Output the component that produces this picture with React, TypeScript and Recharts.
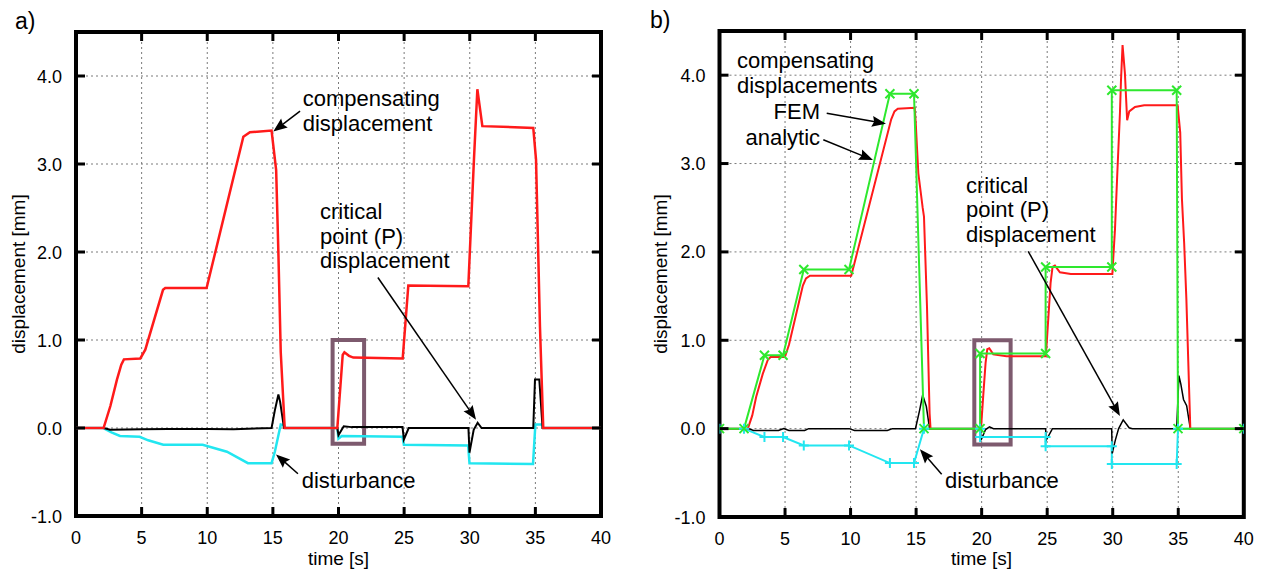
import React from "react";
import {
  CartesianGrid,
  Line,
  LineChart,
  ReferenceArea,
  ReferenceDot,
  ReferenceLine,
  XAxis,
  YAxis,
} from "recharts";

type Pt = [number, number];

const TIME_TICKS = [0, 5, 10, 15, 20, 25, 30, 35, 40];
const DISP_TICKS = [-1, 0, 1, 2, 3, 4];

// a) measured signals [time s, displacement mm]
const A_COMP: Pt[] = [
  [0, 0], [2.1, 0], [2.62, 0.25], [3.12, 0.55], [3.45, 0.72], [3.65, 0.78], [4.9, 0.79],
  [5.28, 0.89], [6.63, 1.57], [6.8, 1.59], [9.95, 1.59], [12.75, 3.31], [13.25, 3.36],
  [14.9, 3.38], [15.25, 2.93], [15.42, 1.99], [15.6, 0.86], [15.9, 0], [19.91, 0],
  [20.32, 0.83], [20.45, 0.86], [20.8, 0.82], [21.13, 0.8], [24.89, 0.79], [25.32, 1.62],
  [29.89, 1.61], [30.32, 3.05], [30.58, 3.85], [30.96, 3.43], [34.84, 3.41], [35.05, 3.05],
  [35.35, 1.15], [35.6, 0], [40, 0],
];
const A_CRIT: Pt[] = [
  [0, 0], [2.1, 0], [2.6, -0.02], [5, -0.015], [7, -0.01], [10, -0.01], [12, -0.015],
  [14.9, 0], [15.15, 0.2], [15.42, 0.38], [15.55, 0.3], [15.85, 0], [19.91, 0], [20.0, -0.08],
  [20.4, 0.02], [21, 0.01], [24.88, 0.01], [24.98, -0.13], [25.35, 0], [29.9, 0],
  [29.98, -0.28], [30.3, -0.02], [30.6, 0.06], [30.9, 0], [34.84, 0], [34.97, 0.55],
  [35.3, 0.55], [35.55, 0], [40, 0],
];
const A_DIST: Pt[] = [
  [0, 0], [2.05, 0], [2.7, -0.05], [3.35, -0.09], [4.85, -0.1], [5.5, -0.14], [6.65, -0.19],
  [9.65, -0.19], [11.5, -0.27], [13.1, -0.4], [14.9, -0.4], [15.15, -0.27], [15.6, 0.04],
  [15.85, 0.03], [15.95, 0], [19.91, 0], [20.0, -0.12], [20.25, -0.09], [24.88, -0.1],
  [24.98, -0.19], [29.88, -0.2], [29.98, -0.4], [34.82, -0.41], [35.0, 0.04], [35.5, 0.04],
  [35.6, 0], [40, 0],
];

// b) simulated signals
const B_FEM: Pt[] = [
  [0, 0], [2.16, 0], [2.5, 0.15], [2.8, 0.36], [3.3, 0.62], [3.69, 0.78], [3.9, 0.81],
  [4.99, 0.81], [5.3, 0.95], [6.36, 1.62], [6.6, 1.7], [6.9, 1.73], [10.05, 1.73],
  [13.1, 3.5], [13.35, 3.59], [13.6, 3.62], [14.89, 3.63], [14.97, 3.46], [15.17, 2.89],
  [15.5, 2.5], [15.6, 2.4], [15.83, 1.38], [16.03, 0.17], [16.1, 0], [19.95, 0],
  [20.12, 0.37], [20.3, 0.745], [20.43, 0.9], [20.58, 0.91], [20.89, 0.84], [21.9, 0.82],
  [24.9, 0.82], [25.08, 1.235], [25.26, 1.65], [25.41, 1.83], [25.59, 1.845], [25.97, 1.77],
  [26.8, 1.75], [29.97, 1.75], [30.17, 2.25], [30.35, 2.89], [30.55, 3.57], [30.63, 3.94],
  [30.75, 4.34], [30.93, 4.02], [31.1, 3.49], [31.26, 3.59], [31.7, 3.64], [32.4, 3.66],
  [34.95, 3.66], [35.15, 3.35], [35.28, 2.6], [35.45, 2.1], [35.62, 1.46], [35.92, 0], [40, 0],
];
const B_ANALYTIC: Pt[] = [
  [0, 0], [1.87, 0], [3.43, 0.83], [4.85, 0.83], [6.43, 1.8], [9.88, 1.8], [13.0, 3.79],
  [14.84, 3.79], [15.6, 0], [19.88, 0], [19.88, 0.85], [24.88, 0.85], [24.88, 1.83],
  [29.93, 1.83], [29.93, 3.83], [34.88, 3.83], [34.98, 0], [40, 0],
];
const B_CRIT: Pt[] = [
  [0, 0], [2.2, 0], [2.6, -0.02], [4.5, -0.02], [4.9, 0], [5.3, -0.02], [6.5, -0.02],
  [6.8, 0], [9.9, 0], [10.3, -0.02], [12.8, -0.02], [13.2, 0], [14.95, 0], [15.27, 0.21],
  [15.5, 0.38], [15.78, 0.25], [16.03, 0], [19.9, 0], [19.95, -0.13], [20.3, -0.01],
  [20.6, 0.02], [20.9, 0], [24.88, 0], [24.93, -0.13], [25.4, 0], [29.92, 0], [29.96, -0.28],
  [30.2, -0.13], [30.45, 0], [30.8, 0.1], [31.25, 0.01], [31.5, 0], [34.88, 0], [35.05, 0.6],
  [35.2, 0.5], [35.4, 0.33], [35.64, 0.26], [35.92, 0], [40, 0],
];
const B_DIST: Pt[] = [
  [0, 0], [1.87, 0], [3.43, -0.095], [4.85, -0.095], [6.43, -0.19], [9.88, -0.19],
  [13.0, -0.39], [14.84, -0.39], [15.6, 0], [19.88, 0], [19.88, -0.095], [24.88, -0.095],
  [24.88, -0.2], [29.93, -0.2], [29.93, -0.4], [34.88, -0.4], [34.98, 0], [40, 0],
];

const RED = "#ff1a1a";
const CYAN = "#22e6f0";
const GREEN = "#2ee82e";
const BOX = "#7d5a6e";
const FONT = '"Liberation Sans", Arial, Helvetica, sans-serif';

const CHART_W = 633;
const CHART_H = 572;

type Series = { pts: Pt[]; color: string; width: number; marker?: "plus" | "cross" };
type Note = { t: number; v: number; lines: string[]; anchor?: "start" | "end" };
type Arrow = { from: Pt; to: Pt };
type PanelCfg = {
  left: number;
  top: number;
  bottom: number;
  plotLeft: number;
  plotRight: number;
  series: Series[];
  box: [number, number, number, number];
  notes: Note[];
  arrows: Arrow[];
};

const rows = (pts: Pt[]) => pts.map(([t, v]) => ({ t, v }));

const PANEL_A: PanelCfg = {
  left: 0,
  top: 32,
  bottom: 516,
  plotLeft: 76,
  plotRight: 601,
  series: [
    { pts: A_DIST, color: CYAN, width: 2.5 },
    { pts: A_CRIT, color: "#000", width: 2 },
    { pts: A_COMP, color: RED, width: 2.5 },
  ],
  box: [19.55, 21.95, -0.18, 1.0],
  notes: [
    { t: 17.27, v: 3.655, lines: ["compensating", "displacement"] },
    { t: 18.59, v: 2.375, lines: ["critical", "point (P)", "displacement"] },
    { t: 17.2, v: -0.68, lines: ["disturbance"] },
  ],
  arrows: [
    { from: [17.07, 3.6], to: [15.03, 3.37] },
    { from: [23.0, 1.71], to: [30.48, 0.094] },
    { from: [16.91, -0.52], to: [15.24, -0.3] },
  ],
};

const PANEL_B: PanelCfg = {
  left: 633,
  top: 31,
  bottom: 517,
  plotLeft: 86.5,
  plotRight: 610.8,
  series: [
    { pts: B_DIST, color: CYAN, width: 2, marker: "plus" },
    { pts: B_CRIT, color: "#000", width: 1.5 },
    { pts: B_FEM, color: RED, width: 2 },
    { pts: B_ANALYTIC, color: GREEN, width: 2, marker: "cross" },
  ],
  box: [19.44, 22.21, -0.18, 1.0],
  notes: [
    { t: 1.33, v: 4.08, lines: ["compensating", "displacements"] },
    { t: 7.67, v: 3.5, lines: ["FEM"], anchor: "end" },
    { t: 7.67, v: 3.21, lines: ["analytic"], anchor: "end" },
    { t: 18.8, v: 2.667, lines: ["critical", "point (P)", "displacement"] },
    { t: 17.2, v: -0.667, lines: ["disturbance"] },
  ],
  arrows: [
    { from: [8.18, 3.57], to: [12.7, 3.45] },
    { from: [7.92, 3.27], to: [11.71, 3.04] },
    { from: [23.55, 2.007], to: [30.55, 0.142] },
    { from: [16.95, -0.516], to: [15.29, -0.234] },
  ],
};

function TimeTick(props: any) {
  const { x, y, payload, top } = props;
  const v = payload.value;
  const inner = v !== 0 && v !== 40;
  return (
    <g>
      {inner && <line x1={x} y1={y} x2={x} y2={y - 9} stroke="#000" strokeWidth={3} />}
      {inner && <line x1={x} y1={top} x2={x} y2={top + 9} stroke="#000" strokeWidth={3} />}
      <text x={x} y={y + 27.5} textAnchor="middle" fontFamily={FONT} fontSize={18} fill="#000">
        {v}
      </text>
    </g>
  );
}

function DispTick(props: any) {
  const { x, y, payload, right } = props;
  const v = payload.value;
  return (
    <g>
      <line x1={x} y1={y} x2={x + 9} y2={y} stroke="#000" strokeWidth={3} />
      <line x1={right} y1={y} x2={right - 9} y2={y} stroke="#000" strokeWidth={3} />
      <text x={x - 14} y={y + 6.5} textAnchor="end" fontFamily={FONT} fontSize={18} fill="#000">
        {v.toFixed(1)}
      </text>
    </g>
  );
}

function ArrowShape(props: any) {
  const { x1, y1, x2, y2 } = props;
  const a = Math.atan2(y2 - y1, x2 - x1);
  const c = Math.cos(a);
  const s = Math.sin(a);
  const bx = x2 - 14 * c;
  const by = y2 - 14 * s;
  const head = `M${x2},${y2} L${bx - 5.5 * s},${by + 5.5 * c} L${bx + 2 * c},${by + 2 * s} L${bx + 5.5 * s},${by - 5.5 * c} Z`;
  return (
    <g>
      <line x1={x1} y1={y1} x2={bx + 3 * c} y2={by + 3 * s} stroke="#000" strokeWidth={1.5} />
      <path d={head} fill="#000" />
    </g>
  );
}

const noteShape = (n: Note) => (p: any) => (
  <text
    x={p.cx}
    y={p.cy}
    fontFamily={FONT}
    fontSize={22}
    fill="#000"
    textAnchor={n.anchor ?? "start"}
  >
    {n.lines.map((l, i) => (
      <tspan key={i} x={p.cx} dy={i === 0 ? 0 : 24.5}>
        {l}
      </tspan>
    ))}
  </text>
);

const markerDot = (kind: "plus" | "cross", color: string) => (p: any) => {
  const { cx, cy, index } = p;
  const d =
    kind === "plus"
      ? `M${cx - 5},${cy} L${cx + 5},${cy} M${cx},${cy - 5} L${cx},${cy + 5}`
      : `M${cx - 4.5},${cy - 4.5} L${cx + 4.5},${cy + 4.5} M${cx - 4.5},${cy + 4.5} L${cx + 4.5},${cy - 4.5}`;
  return <path key={`m-${index}`} d={d} stroke={color} strokeWidth={2} fill="none" />;
};

function Panel({ cfg }: { cfg: PanelCfg }) {
  const { left, top, bottom, plotLeft, plotRight } = cfg;
  return (
    <div style={{ position: "absolute", left, top: 0 }}>
      <LineChart
        width={CHART_W}
        height={CHART_H}
        margin={{ top, right: CHART_W - plotRight, bottom: 0, left: 0 }}
      >
        <CartesianGrid stroke="#7a7a7a" strokeDasharray="2 3" />
        <XAxis
          type="number"
          dataKey="t"
          domain={[0, 40]}
          ticks={TIME_TICKS}
          interval={0}
          allowDataOverflow
          height={CHART_H - bottom}
          axisLine={false}
          tickLine={false}
          tickSize={0}
          tickMargin={0}
          tick={(p: any) => <TimeTick {...p} top={top} />}
        />
        <YAxis
          type="number"
          domain={[-1, 4.5]}
          ticks={DISP_TICKS}
          interval={0}
          allowDataOverflow
          width={plotLeft}
          axisLine={false}
          tickLine={false}
          tickSize={0}
          tickMargin={0}
          tick={(p: any) => <DispTick {...p} right={plotRight} />}
        />
        {cfg.series.map((s, i) => (
          <Line
            key={i}
            data={rows(s.pts)}
            dataKey="v"
            type="linear"
            stroke={s.color}
            strokeWidth={s.width}
            dot={s.marker ? markerDot(s.marker, s.color) : false}
            activeDot={false}
            isAnimationActive={false}
          />
        ))}
        <ReferenceArea
          x1={cfg.box[0]}
          x2={cfg.box[1]}
          y1={cfg.box[2]}
          y2={cfg.box[3]}
          fill="none"
          fillOpacity={0}
          stroke={BOX}
          strokeWidth={4}
          ifOverflow="visible"
        />
        {cfg.arrows.map((a, i) => (
          <ReferenceLine
            key={`a${i}`}
            segment={[
              { x: a.from[0], y: a.from[1] },
              { x: a.to[0], y: a.to[1] },
            ]}
            shape={ArrowShape}
            ifOverflow="visible"
          />
        ))}
        {cfg.notes.map((n, i) => (
          <ReferenceDot
            key={`n${i}`}
            x={n.t}
            y={n.v}
            r={0}
            shape={noteShape(n)}
            ifOverflow="visible"
          />
        ))}
        <ReferenceArea
          x1={0}
          x2={40}
          y1={-1}
          y2={4.5}
          fill="none"
          fillOpacity={0}
          stroke="#000"
          strokeWidth={4}
          ifOverflow="visible"
        />
      </LineChart>
    </div>
  );
}

export default function App() {
  return (
    <div
      style={{
        position: "absolute",
        left: 0,
        top: 0,
        width: 1266,
        height: 572,
        background: "#fff",
        overflow: "hidden",
      }}
    >
      <Panel cfg={PANEL_A} />
      <Panel cfg={PANEL_B} />
      <svg
        width={1266}
        height={572}
        style={{ position: "absolute", left: 0, top: 0, pointerEvents: "none" }}
        fontFamily={FONT}
      >
        <text x={15} y={29} fontSize={23}>a)</text>
        <text x={650} y={28} fontSize={23}>b)</text>
        <text
          x={18}
          y={274}
          fontSize={19}
          textAnchor="middle"
          dominantBaseline="central"
          transform="rotate(-90 18 274)"
        >
          displacement [mm]
        </text>
        <text
          x={660}
          y={274}
          fontSize={19}
          textAnchor="middle"
          dominantBaseline="central"
          transform="rotate(-90 660 274)"
        >
          displacement [mm]
        </text>
        <text x={338.5} y={565} fontSize={19} textAnchor="middle">time [s]</text>
        <text x={981.5} y={565} fontSize={19} textAnchor="middle">time [s]</text>
      </svg>
    </div>
  );
}
